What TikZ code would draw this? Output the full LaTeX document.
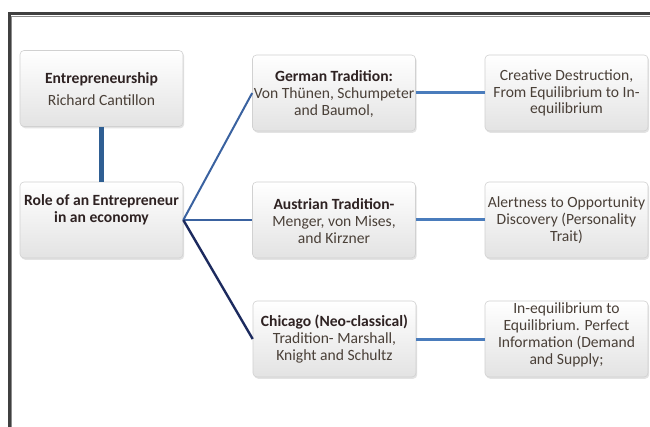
\documentclass[tikz,border=0pt]{standalone}
\usepackage{fontspec}
\setmainfont{Carlito}
\usetikzlibrary{shadows}
\definecolor{boldtxt}{HTML}{2E2222}
\definecolor{regtxt}{HTML}{4A4038}
\definecolor{lineA}{HTML}{2F5F93}
\definecolor{lineB}{HTML}{3A62A0}
\definecolor{lineC}{HTML}{1C2A5E}
\definecolor{lineD}{HTML}{4A7CBC}
\begin{document}
\begin{tikzpicture}[x=1pt,y=-1pt,
  box/.style={draw=black!18, line width=0.6pt, rounded corners=4pt,
    top color=white, bottom color=black!11, minimum width=163pt, minimum height=76pt,
    drop shadow={opacity=0.22, shadow xshift=1.2pt, shadow yshift=-1.8pt}},
  txt/.style={align=center, font=\fontsize{15.6}{16.8}\selectfont, text=regtxt, inner sep=0pt},
  conn/.style={line width=2pt}]
\useasboundingbox (0,0) rectangle (650,427);
\fill[white] (0,0) rectangle (650,427);
% frame
\draw[line width=3pt, black!75] (9,427) -- (9,13.5) -- (650,13.5);
\draw[line width=0.8pt, black!45] (11.5,427) -- (11.5,16) -- (650,16);
% boxes
\node[box] (b1) at (101.5,88.5) {};
\node[box] (b2) at (101.5,220) {};
\node[box] (g) at (334,93) {};
\node[box] (gr) at (566.5,93) {};
\node[box] (a) at (334,220) {};
\node[box] (ar) at (566.5,220) {};
\node[box] (c) at (334.5,339) {};
\node[box] (cr) at (566.5,339) {};
% connectors
\draw[line width=5pt, lineA] (b1.south) -- (b2.north);
\draw[conn, lineB] (b2.east) -- (g.west);
\draw[conn, lineB] (b2.east) -- (a.west);
\draw[line width=2.4pt, lineC] (b2.east) -- (c.west);
\draw[line width=3pt, lineD] (g.east) -- (gr.west);
\draw[line width=3pt, lineD] (a.east) -- (ar.west);
\draw[line width=3pt, lineD] (c.east) -- (cr.west);
% texts
\node[txt] (t1) at ([yshift=-0.5pt]b1.center) {\textcolor{boldtxt}{\bfseries Entrepreneurship}\\[5pt]Richard Cantillon};
\node[txt] (t2) at ([yshift=10pt]b2.center) {\textcolor{boldtxt}{\bfseries Role of an Entrepreneur}\\\textcolor{boldtxt}{\bfseries in an economy}};
\node[txt] (t3) at ([yshift=-1pt]g.center) {\textcolor{boldtxt}{\bfseries German Tradition:}\\Von Thünen, Schumpeter\\and Baumol,};
\node[txt] (t4) at (gr.center) {Creative Destruction,\\From Equilibrium to In-\\equilibrium};
\node[txt] (t5) at ([yshift=-1pt]a.center) {\textcolor{boldtxt}{\bfseries Austrian Tradition-}\\Menger, von Mises,\\and Kirzner};
\node[txt] (t6) at (ar.center) {Alertness to Opportunity\\Discovery (Personality\\Trait)};
\node[txt] (t7) at (c.center) {\textcolor{boldtxt}{\bfseries Chicago (Neo-classical)}\\Tradition- Marshall,\\Knight and Schultz};
\node[txt] (t8) at ([yshift=4pt]cr.center) {In-equilibrium to\\Equilibrium. Perfect\\Information (Demand\\and Supply;};
\end{tikzpicture}
\end{document}
